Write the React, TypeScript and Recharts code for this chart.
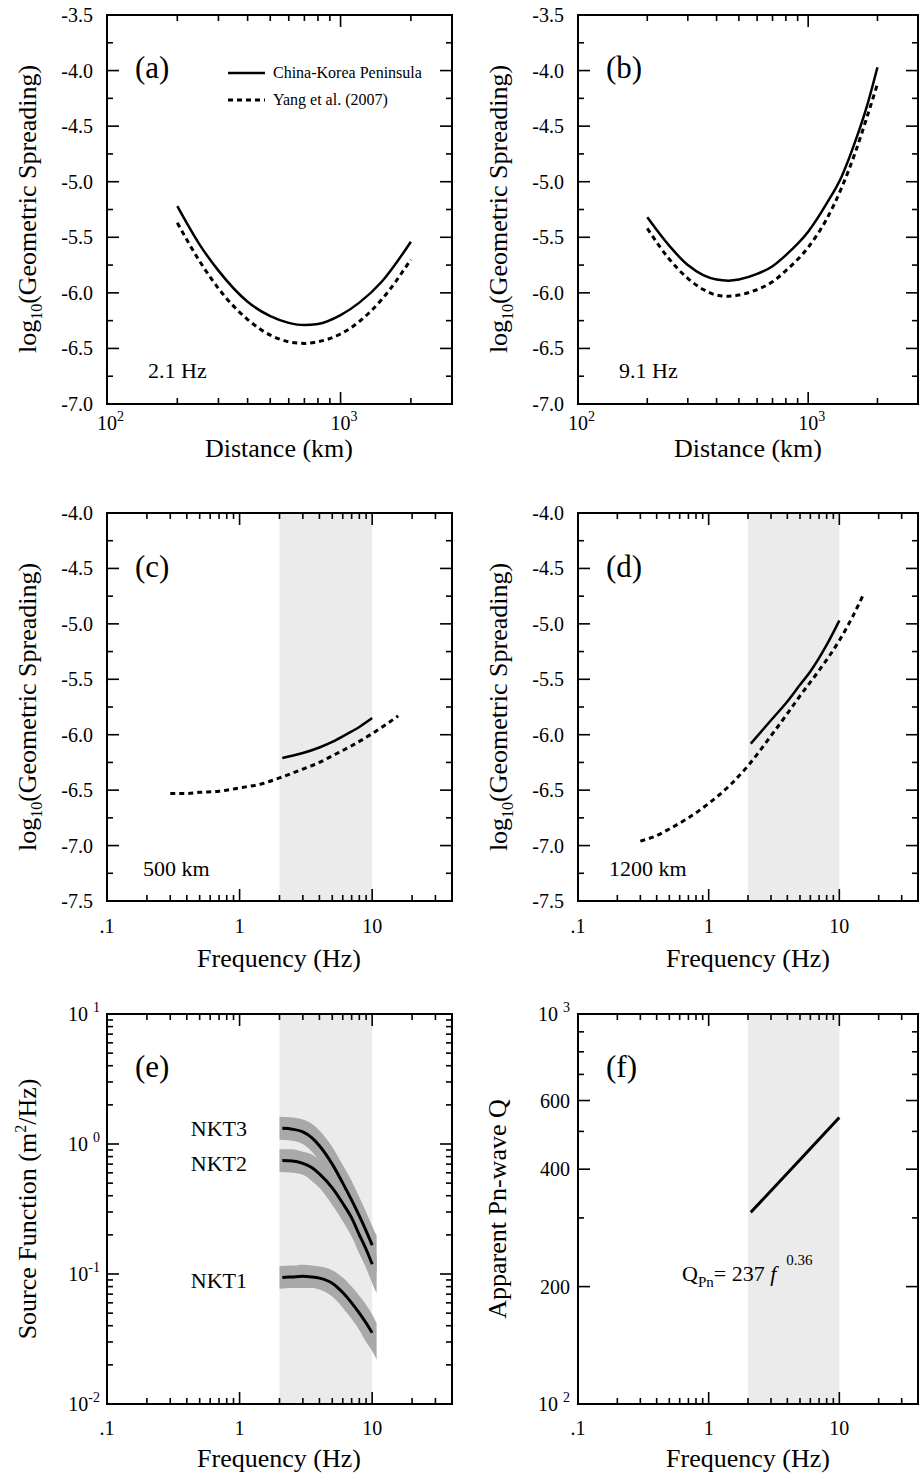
import React from "react";
import { ComposedChart, Line, Area, XAxis, YAxis, ReferenceArea } from "recharts";

const FONT = "'Liberation Serif', 'Times New Roman', Times, serif";
const INK = "#000";
const BAND = "#ebebeb";
const ERR = "#a9a9a9";

// (a) 2.1 Hz, geometric spreading vs distance (km)
const distA = [200, 250, 300, 400, 500, 600, 700, 800, 1000, 1200, 1500, 2000];
const ckpA = [-5.22, -5.57, -5.8, -6.08, -6.21, -6.27, -6.29, -6.28, -6.2, -6.09, -5.9, -5.54];
const yangA = [-5.37, -5.72, -5.96, -6.24, -6.38, -6.44, -6.455, -6.44, -6.37, -6.26, -6.06, -5.7];

// (b) 9.1 Hz
const distB = [200, 250, 300, 350, 400, 450, 500, 600, 700, 800, 1000, 1200, 1400, 1600, 1800, 2000];
const ckpB = [-5.32, -5.58, -5.75, -5.84, -5.88, -5.89, -5.88, -5.83, -5.76, -5.66, -5.45, -5.2, -4.95, -4.64, -4.32, -3.97];
const yangB = [-5.42, -5.7, -5.87, -5.97, -6.02, -6.03, -6.02, -5.97, -5.9, -5.8, -5.59, -5.34, -5.05, -4.74, -4.42, -4.12];

// (c) 500 km, vs frequency (Hz)
const freqCkpC = [2.1, 3, 4, 5, 6, 7, 8, 10];
const ckpC = [-6.21, -6.165, -6.115, -6.065, -6.015, -5.97, -5.93, -5.85];
const freqYangC = [0.3, 0.4, 0.5, 0.7, 1, 1.5, 2, 3, 4, 5, 7, 10, 13, 15.7];
const yangC = [-6.53, -6.53, -6.52, -6.51, -6.48, -6.44, -6.39, -6.31, -6.25, -6.19, -6.1, -5.99, -5.9, -5.83];

// (d) 1200 km
const freqCkpD = [2.1, 3, 4, 5, 6, 8, 10];
const ckpD = [-6.08, -5.87, -5.7, -5.55, -5.43, -5.19, -4.97];
const freqYangD = [0.3, 0.4, 0.5, 0.7, 1, 1.5, 2, 3, 4, 5, 7, 10, 12.7, 15.5];
const yangD = [-6.96, -6.91, -6.85, -6.75, -6.62, -6.44, -6.28, -6.01, -5.81, -5.65, -5.42, -5.15, -4.93, -4.72];

// (e) source functions (m^2/Hz) with uncertainty bands
const freqSrc = [2.1, 2.5, 3, 3.5, 4, 5, 6, 7, 8, 9, 10];
const nkt3 = [1.32, 1.3, 1.24, 1.12, 0.97, 0.7, 0.5, 0.37, 0.28, 0.215, 0.167];
const nkt2 = [0.745, 0.74, 0.71, 0.66, 0.59, 0.46, 0.35, 0.27, 0.2, 0.155, 0.119];
const nkt1 = [0.094, 0.095, 0.096, 0.095, 0.093, 0.085, 0.072, 0.06, 0.05, 0.042, 0.0353];
const freqBand = [2.0, 2.5, 3, 3.5, 4, 5, 6, 7, 8, 9, 10, 10.8];
const nkt3Hi = [1.62, 1.6, 1.54, 1.43, 1.27, 0.95, 0.69, 0.52, 0.39, 0.3, 0.234, 0.197];
const nkt3Lo = [1.08, 1.06, 1.0, 0.875, 0.74, 0.52, 0.36, 0.264, 0.2, 0.154, 0.119, 0.101];
const nkt2Hi = [0.91, 0.91, 0.87, 0.83, 0.76, 0.62, 0.48, 0.375, 0.28, 0.217, 0.167, 0.139];
const nkt2Lo = [0.61, 0.6, 0.58, 0.52, 0.46, 0.34, 0.255, 0.194, 0.143, 0.111, 0.085, 0.071];
const nkt1Hi = [0.115, 0.116, 0.118, 0.116, 0.114, 0.107, 0.094, 0.08, 0.068, 0.058, 0.0487, 0.0418];
const nkt1Lo = [0.077, 0.078, 0.078, 0.078, 0.076, 0.067, 0.055, 0.045, 0.037, 0.03, 0.0256, 0.022];

// (f) apparent Pn-wave Q
const freqQ = [2.1, 5, 10];
const qPn = [310, 423, 543];

// ticks
const distTicks = [100, 200, 300, 400, 500, 600, 700, 800, 900, 1000, 2000, 3000];
const freqTicks = [0.1, 0.2, 0.3, 0.4, 0.5, 0.6, 0.7, 0.8, 0.9, 1, 2, 3, 4, 5, 6, 7, 8, 9, 10, 20, 30, 40];
const gsTicksAB = [-3.5, -3.75, -4.0, -4.25, -4.5, -4.75, -5.0, -5.25, -5.5, -5.75, -6.0, -6.25, -6.5, -6.75, -7.0];
const gsTicksCD = [-4.0, -4.25, -4.5, -4.75, -5.0, -5.25, -5.5, -5.75, -6.0, -6.25, -6.5, -6.75, -7.0, -7.25, -7.5];
const srcTicks = [
  0.01, 0.02, 0.03, 0.04, 0.05, 0.06, 0.07, 0.08, 0.09, 0.1, 0.2, 0.3, 0.4, 0.5, 0.6, 0.7, 0.8, 0.9, 1, 2, 3, 4, 5,
  6, 7, 8, 9, 10,
];
const qTicks = [100, 200, 300, 400, 500, 600, 700, 800, 900, 1000];
const qLabelled = [100, 200, 400, 600, 1000];

const DIST_DOM: [number, number] = [100, 3000];
const FREQ_DOM: [number, number] = [0.1, 40];
const GS_AB: [number, number] = [-7, -3.5];
const GS_CD: [number, number] = [-7.5, -4];
const SRC_DOM: [number, number] = [0.01, 10];
const Q_DOM: [number, number] = [100, 1000];

const pts = (xs: number[], ys: number[]) => xs.map((x, i) => ({ x, y: ys[i] }));
const rng = (xs: number[], lo: number[], hi: number[]) => xs.map((x, i) => ({ x, r: [lo[i], hi[i]] }));

const isDecade = (v: number) => Math.abs(Math.log10(v) - Math.round(Math.log10(v))) < 1e-9;
const isHalf = (v: number) => Math.abs(v * 2 - Math.round(v * 2)) < 1e-9;
const isQMajor = (v: number) => qLabelled.includes(v);

type LabelFn = (v: number, x: number, y: number) => React.ReactNode;
const labelTick = (label: LabelFn) => (p: any) => <g>{label(p.payload.value, p.x, p.y)}</g>;

const distLabel: LabelFn = (v, x, y) =>
  v === 100 || v === 1000 ? (
    <text x={x - 10} y={y + 26} fontSize={20} fontFamily={FONT} fill={INK}>
      10
      <tspan dy={-9} fontSize={14}>
        {v === 100 ? "2" : "3"}
      </tspan>
    </text>
  ) : null;

const freqLabel =
  (dy: number): LabelFn =>
  (v, x, y) =>
    isDecade(v) ? (
      <text x={x} y={y + dy} fontSize={20} textAnchor="middle" fontFamily={FONT} fill={INK}>
        {v === 0.1 ? ".1" : String(v)}
      </text>
    ) : null;

const gsLabel: LabelFn = (v, x, y) =>
  isHalf(v) ? (
    <text x={x - 14} y={y + 7} fontSize={20} textAnchor="end" fontFamily={FONT} fill={INK}>
      {v.toFixed(1)}
    </text>
  ) : null;

const srcExp: Record<string, string> = { "10": "1", "1": "0", "0.1": "-1", "0.01": "-2" };
const srcLabel: LabelFn = (v, x, y) => {
  const e = srcExp[String(v)];
  if (!e) return null;
  return (
    <text x={x - 7} y={y + 7} fontSize={20} textAnchor="end" fontFamily={FONT} fill={INK}>
      10
      <tspan dx={e.startsWith("-") ? 0 : 5} dy={-9} fontSize={14}>
        {e}
      </tspan>
    </text>
  );
};

const qLabel: LabelFn = (v, x, y) => {
  if (v === 100 || v === 1000) {
    return (
      <text x={x - 8} y={y + 7} fontSize={20} textAnchor="end" fontFamily={FONT} fill={INK}>
        10
        <tspan dx={5} dy={-9} fontSize={14}>
          {v === 100 ? "2" : "3"}
        </tspan>
      </text>
    );
  }
  if (isQMajor(v)) {
    return (
      <text x={x - 8} y={y + 7} fontSize={20} textAnchor="end" fontFamily={FONT} fill={INK}>
        {v}
      </text>
    );
  }
  return null;
};

interface PanelOpts {
  left: number;
  top: number;
  height: number;
  marginTop: number;
  marginRight: number;
  yAxisW: number;
  xAxisH: number;
  xDom: [number, number];
  xTicks: number[];
  xLabel: LabelFn;
  yDom: [number, number];
  yTicks: number[];
  yLabel: LabelFn;
  yLog?: boolean;
  band?: boolean;
}

const panel = (o: PanelOpts, series: React.ReactNode[]) => (
  <div style={{ position: "absolute", left: o.left, top: o.top }}>
    <ComposedChart
      width={462}
      height={o.height}
      margin={{ top: o.marginTop, right: o.marginRight, bottom: 0, left: 0 }}
    >
      <XAxis
        dataKey="x"
        type="number"
        scale="log"
        domain={o.xDom}
        allowDataOverflow
        ticks={o.xTicks}
        interval={0}
        tickSize={0}
        tickMargin={0}
        axisLine={false}
        tickLine={false}
        height={o.xAxisH}
        tick={labelTick(o.xLabel)}
      />
      {o.yLog ? (
        <YAxis
          type="number"
          scale="log"
          domain={o.yDom}
          allowDataOverflow
          ticks={o.yTicks}
          interval={0}
          tickSize={0}
          tickMargin={0}
          axisLine={false}
          tickLine={false}
          width={o.yAxisW}
          tick={labelTick(o.yLabel)}
        />
      ) : (
        <YAxis
          type="number"
          domain={o.yDom}
          allowDataOverflow
          ticks={o.yTicks}
          interval={0}
          tickSize={0}
          tickMargin={0}
          axisLine={false}
          tickLine={false}
          width={o.yAxisW}
          tick={labelTick(o.yLabel)}
        />
      )}
      {o.band ? (
        <ReferenceArea x1={2} x2={10} y1={o.yDom[0]} y2={o.yDom[1]} fill={BAND} fillOpacity={1} stroke="none" />
      ) : null}
      {series}
    </ComposedChart>
  </div>
);

const solid = (key: string, data: { x: number; y: number }[], w = 2.5) => (
  <Line
    key={key}
    data={data}
    dataKey="y"
    type="monotone"
    dot={false}
    stroke={INK}
    strokeWidth={w}
    isAnimationActive={false}
  />
);

const dashed = (key: string, data: { x: number; y: number }[]) => (
  <Line
    key={key}
    data={data}
    dataKey="y"
    type="monotone"
    dot={false}
    stroke={INK}
    strokeWidth={3}
    strokeDasharray="5 4"
    isAnimationActive={false}
  />
);

const errBand = (key: string, data: { x: number; r: number[] }[]) => (
  <Area
    key={key}
    data={data}
    dataKey="r"
    type="monotone"
    stroke="none"
    fill={ERR}
    fillOpacity={1}
    isAnimationActive={false}
  />
);

// plot boxes (same geometry as the chart margins / axis sizes above)
interface Box {
  L: number;
  Top: number;
  W: number;
  H: number;
  xd: [number, number];
  yd: [number, number];
  yLog: boolean;
  xTicks: number[];
  xMajor: (v: number) => boolean;
  yTicks: number[];
  yMajor: (v: number) => boolean;
}

const frac = (v: number, d: [number, number], log: boolean) =>
  log
    ? (Math.log10(v) - Math.log10(d[0])) / (Math.log10(d[1]) - Math.log10(d[0]))
    : (v - d[0]) / (d[1] - d[0]);

// filled bars for the frame and the inward ticks on all four sides
const bar = (key: string, x: number, y: number, w: number, h: number) => (
  <rect key={key} x={x} y={y} width={w} height={h} fill="#000" />
);

const frame = (b: Box, id: number) => {
  const bottom = b.Top + b.H;
  const right = b.L + b.W;
  const out: React.ReactNode[] = [];
  b.xTicks.forEach((v) => {
    const x = b.L + frac(v, b.xd, true) * b.W;
    const len = b.xMajor(v) ? 12 : 6;
    out.push(bar(`xb${id}-${v}`, x - 0.8, bottom - len, 1.6, len));
    out.push(bar(`xt${id}-${v}`, x - 0.8, b.Top, 1.6, len));
  });
  b.yTicks.forEach((v) => {
    const y = bottom - frac(v, b.yd, b.yLog) * b.H;
    const len = b.yMajor(v) ? 12 : 6;
    out.push(bar(`yl${id}-${v}`, b.L, y - 0.8, len, 1.6));
    out.push(bar(`yr${id}-${v}`, right - len, y - 0.8, len, 1.6));
  });
  out.push(bar(`ft${id}`, b.L - 1, b.Top - 1, b.W + 2, 2));
  out.push(bar(`fb${id}`, b.L - 1, bottom - 1, b.W + 2, 2));
  out.push(bar(`fl${id}`, b.L - 1, b.Top - 1, 2, b.H + 2));
  out.push(bar(`fr${id}`, right - 1, b.Top - 1, 2, b.H + 2));
  return out;
};

const boxes: Box[] = [
  { L: 107, Top: 15, W: 345, H: 389, xd: DIST_DOM, yd: GS_AB, yLog: false, xTicks: distTicks, xMajor: isDecade, yTicks: gsTicksAB, yMajor: isHalf },
  { L: 578, Top: 15, W: 340, H: 389, xd: DIST_DOM, yd: GS_AB, yLog: false, xTicks: distTicks, xMajor: isDecade, yTicks: gsTicksAB, yMajor: isHalf },
  { L: 107, Top: 513, W: 345, H: 388, xd: FREQ_DOM, yd: GS_CD, yLog: false, xTicks: freqTicks, xMajor: isDecade, yTicks: gsTicksCD, yMajor: isHalf },
  { L: 578, Top: 513, W: 340, H: 388, xd: FREQ_DOM, yd: GS_CD, yLog: false, xTicks: freqTicks, xMajor: isDecade, yTicks: gsTicksCD, yMajor: isHalf },
  { L: 107, Top: 1014, W: 345, H: 390, xd: FREQ_DOM, yd: SRC_DOM, yLog: true, xTicks: freqTicks, xMajor: isDecade, yTicks: srcTicks, yMajor: isDecade },
  { L: 578, Top: 1014, W: 340, H: 390, xd: FREQ_DOM, yd: Q_DOM, yLog: true, xTicks: freqTicks, xMajor: isDecade, yTicks: qTicks, yMajor: isQMajor },
];

const txt = (x: number, y: number, size: number, s: React.ReactNode, anchor: "start" | "middle" | "end" = "start") => (
  <text x={x} y={y} fontSize={size} textAnchor={anchor} fontFamily={FONT} fill={INK}>
    {s}
  </text>
);

const yTitle = (cx: number, cy: number, content: React.ReactNode) => (
  <text
    transform={`rotate(-90 ${cx} ${cy})`}
    x={cx}
    y={cy + 9}
    textAnchor="middle"
    fontSize={26}
    fontFamily={FONT}
    fill={INK}
  >
    {content}
  </text>
);

const gsTitle = (
  <>
    log
    <tspan fontSize={16} dy={6}>
      10
    </tspan>
    <tspan dy={-6}>(Geometric Spreading)</tspan>
  </>
);

function Overlay() {
  return (
    <svg width={924} height={1478} style={{ position: "absolute", left: 0, top: 0, pointerEvents: "none" }}>
      {boxes.map((b, i) => (
        <g key={`box${i}`}>{frame(b, i)}</g>
      ))}

      {txt(135, 78, 31, "(a)")}
      {txt(606, 78, 31, "(b)")}
      {txt(135, 577, 31, "(c)")}
      {txt(606, 577, 31, "(d)")}
      {txt(135, 1077, 31, "(e)")}
      {txt(606, 1077, 31, "(f)")}

      <line x1={228} y1={73} x2={265} y2={73} stroke={INK} strokeWidth={2.5} />
      <line x1={228} y1={100} x2={265} y2={100} stroke={INK} strokeWidth={3} strokeDasharray="5 4" />
      {txt(273, 78, 16, "China-Korea Peninsula")}
      {txt(273, 105, 16, "Yang et al. (2007)")}

      {txt(148, 378, 22, "2.1 Hz")}
      {txt(619, 378, 22, "9.1 Hz")}
      {txt(143, 876, 22, "500 km")}
      {txt(609, 876, 22, "1200 km")}
      {txt(247, 1136, 22, "NKT3", "end")}
      {txt(247, 1171, 22, "NKT2", "end")}
      {txt(247, 1288, 22, "NKT1", "end")}
      <text x={682} y={1281} fontSize={22} fontFamily={FONT} fill={INK}>
        Q
        <tspan fontSize={15} dy={6}>
          Pn
        </tspan>
        <tspan dy={-6}>= 237 </tspan>
        <tspan fontStyle="italic">f</tspan>
        <tspan fontSize={15} dx={10} dy={-16}>
          0.36
        </tspan>
      </text>

      {txt(279, 457, 26, "Distance (km)", "middle")}
      {txt(748, 457, 26, "Distance (km)", "middle")}
      {txt(279, 967, 26, "Frequency (Hz)", "middle")}
      {txt(748, 967, 26, "Frequency (Hz)", "middle")}
      {txt(279, 1467, 26, "Frequency (Hz)", "middle")}
      {txt(748, 1467, 26, "Frequency (Hz)", "middle")}

      {yTitle(27, 209, gsTitle)}
      {yTitle(498, 209, gsTitle)}
      {yTitle(27, 707, gsTitle)}
      {yTitle(498, 707, gsTitle)}
      {yTitle(
        27,
        1209,
        <>
          Source Function (m
          <tspan fontSize={16} dy={-10}>
            2
          </tspan>
          <tspan dy={10}>/Hz)</tspan>
        </>
      )}
      {yTitle(497, 1209, "Apparent Pn-wave Q")}
    </svg>
  );
}

export default function App() {
  return (
    <div style={{ position: "absolute", left: 0, top: 0, width: 924, height: 1478, background: "#fff" }}>
      {panel(
        {
          left: 0, top: 0, height: 490, marginTop: 15, marginRight: 10, yAxisW: 107, xAxisH: 86,
          xDom: DIST_DOM, xTicks: distTicks, xLabel: distLabel, yDom: GS_AB, yTicks: gsTicksAB, yLabel: gsLabel,
        },
        [solid("a1", pts(distA, ckpA)), dashed("a2", pts(distA, yangA))]
      )}
      {panel(
        {
          left: 462, top: 0, height: 490, marginTop: 15, marginRight: 6, yAxisW: 116, xAxisH: 86,
          xDom: DIST_DOM, xTicks: distTicks, xLabel: distLabel, yDom: GS_AB, yTicks: gsTicksAB, yLabel: gsLabel,
        },
        [solid("b1", pts(distB, ckpB)), dashed("b2", pts(distB, yangB))]
      )}
      {panel(
        {
          left: 0, top: 490, height: 500, marginTop: 23, marginRight: 10, yAxisW: 107, xAxisH: 89,
          xDom: FREQ_DOM, xTicks: freqTicks, xLabel: freqLabel(32), yDom: GS_CD, yTicks: gsTicksCD, yLabel: gsLabel,
          band: true,
        },
        [solid("c1", pts(freqCkpC, ckpC)), dashed("c2", pts(freqYangC, yangC))]
      )}
      {panel(
        {
          left: 462, top: 490, height: 500, marginTop: 23, marginRight: 6, yAxisW: 116, xAxisH: 89,
          xDom: FREQ_DOM, xTicks: freqTicks, xLabel: freqLabel(32), yDom: GS_CD, yTicks: gsTicksCD, yLabel: gsLabel,
          band: true,
        },
        [solid("d1", pts(freqCkpD, ckpD)), dashed("d2", pts(freqYangD, yangD))]
      )}
      {panel(
        {
          left: 0, top: 990, height: 488, marginTop: 24, marginRight: 10, yAxisW: 107, xAxisH: 74,
          xDom: FREQ_DOM, xTicks: freqTicks, xLabel: freqLabel(31), yDom: SRC_DOM, yTicks: srcTicks, yLabel: srcLabel,
          yLog: true, band: true,
        },
        [
          errBand("e1", rng(freqBand, nkt3Lo, nkt3Hi)),
          errBand("e2", rng(freqBand, nkt2Lo, nkt2Hi)),
          errBand("e3", rng(freqBand, nkt1Lo, nkt1Hi)),
          solid("e4", pts(freqSrc, nkt3), 3),
          solid("e5", pts(freqSrc, nkt2), 3),
          solid("e6", pts(freqSrc, nkt1), 3),
        ]
      )}
      {panel(
        {
          left: 462, top: 990, height: 488, marginTop: 24, marginRight: 6, yAxisW: 116, xAxisH: 74,
          xDom: FREQ_DOM, xTicks: freqTicks, xLabel: freqLabel(31), yDom: Q_DOM, yTicks: qTicks, yLabel: qLabel,
          yLog: true, band: true,
        },
        [solid("f1", pts(freqQ, qPn), 3)]
      )}
      <Overlay />
    </div>
  );
}
